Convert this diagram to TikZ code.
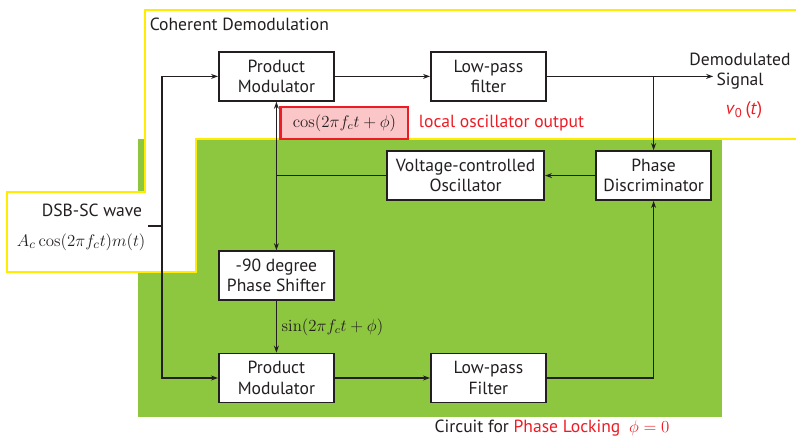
\documentclass[tikz,border=0pt]{standalone}
\usepackage{amsmath,amssymb}
\usepackage[no-math]{fontspec}
\setmainfont{PT Sans}
\usepackage{tikz}
\usetikzlibrary{positioning,arrows.meta,calc}
\definecolor{leafgreen}{RGB}{141,198,63}
\definecolor{signalred}{RGB}{237,28,36}
\definecolor{edgeyellow}{RGB}{255,236,0}
\definecolor{inkgray}{RGB}{35,31,32}

\begin{document}
\begin{tikzpicture}[
  box/.style={draw=inkgray, line width=1.2pt, fill=white, minimum width=2.875cm,
              minimum height=1.225cm, align=center, inner sep=1pt,
              font=\fontsize{12.5}{14.5}\selectfont, text=inkgray},
  wire/.style={draw=inkgray, line width=0.9pt},
  lbl/.style={font=\fontsize{12.5}{14.5}\selectfont, text=inkgray, align=center},
  >={Stealth[length=5pt, width=3.5pt]}
]
\useasboundingbox (0,0) rectangle (19.9,11);

% Phase locking region
\fill[leafgreen] (3.45,0.575) rectangle (18.05,7.525);

% Coherent demodulation region
\fill[white] (19.9,7.525) -- (4.9,7.525) -- (4.9,4.2) -- (0.175,4.2)
  -- (0.175,6.2) -- (3.625,6.2) -- (3.625,10.75) -- (19.9,10.75) -- cycle;
\draw[edgeyellow, line width=1.2pt] (19.9,7.525) -- (4.9,7.525) -- (4.9,4.2)
  -- (0.175,4.2) -- (0.175,6.2) -- (3.625,6.2) -- (3.625,10.75) -- (19.9,10.75);
\node[lbl, anchor=west] (title) at (3.62,10.4) {Coherent Demodulation};

% Blocks
\node[box] (pm1) at (6.91,9.09) {Product\\Modulator};
\node[box] (lpf1) at (12.21,9.09) {Low-pass\\filter};
\node[box, minimum width=3.925cm] (vco) at (11.64,6.61)
  {Voltage-controlled\\Oscillator};
\node[box] (pd) at (16.34,6.61) {Phase\\Discriminator};
\node[box] (shift) at (6.91,4.11) {-90 degree\\Phase Shifter};
\node[box] (pm2) at (6.91,1.55) {Product\\Modulator};
\node[box] (lpf2) at (12.21,1.55) {Low-pass\\Filter};

% Input signal
\node[lbl] (dsb) at (2.3,5.75) {DSB-SC wave};
\node[font=\fontsize{12.5}{14.5}\selectfont, text=inkgray] (wave) at (2.03,4.95)
  {$A_c\cos(2\pi f_c t)m(t)$};
\coordinate (in) at (3.7,5.35);
\coordinate (bus) at (4.05,5.35);

% Output signal
\coordinate (out) at (17.83,9.09);
\node[lbl] (demod) at (18.5,9.22) {Demodulated\\Signal};
\node[font=\fontsize{13}{15}\selectfont, text=signalred] (vout) at (18.6,8.25)
  {\textit{v}\textsubscript{0}\,(\textit{t})};

% Local oscillator tag
\node[draw=signalred, line width=2pt, fill=signalred!25, minimum width=3.175cm,
  minimum height=0.8cm, font=\fontsize{12}{14}\selectfont, text=inkgray]
  (lo) at (8.61,7.925) {$\cos(2\pi f_c t+\phi)$};
\node[lbl, text=signalred, anchor=west] (lotext) at (10.35,7.925)
  {local oscillator output};

% Tap on the oscillator line
\coordinate (tap) at (pm1 |- vco);

% Arrows
\draw[wire] (in) -- (bus);
\draw[wire, ->] (bus) |- (pm1);
\draw[wire, ->] (bus) |- (pm2);
\draw[wire, ->] (pm1) -- (lpf1);
\draw[wire, ->] (lpf1) -- (out);
\draw[wire, ->] (lpf1.east -| pd) -- (pd);
\draw[wire, ->] (pd) -- (vco);
\draw[wire] (vco) -- (tap);
\draw[wire, ->] (tap) -- (pm1);
\draw[wire, ->] (tap) -- (shift);
\draw[wire, ->] (shift) -- node[right, font=\fontsize{12}{14}\selectfont,
  text=inkgray] (sinlbl) {$\sin(2\pi f_c t+\phi)$} (pm2);
\draw[wire, ->] (pm2) -- (lpf2);
\draw[wire, ->] (lpf2) -| (pd);

% Caption
\node[lbl] (caption) at (13.8,0.3)
  {Circuit for \textcolor{signalred}{Phase Locking\enspace$\phi=0$}};

\end{tikzpicture}
\end{document}
